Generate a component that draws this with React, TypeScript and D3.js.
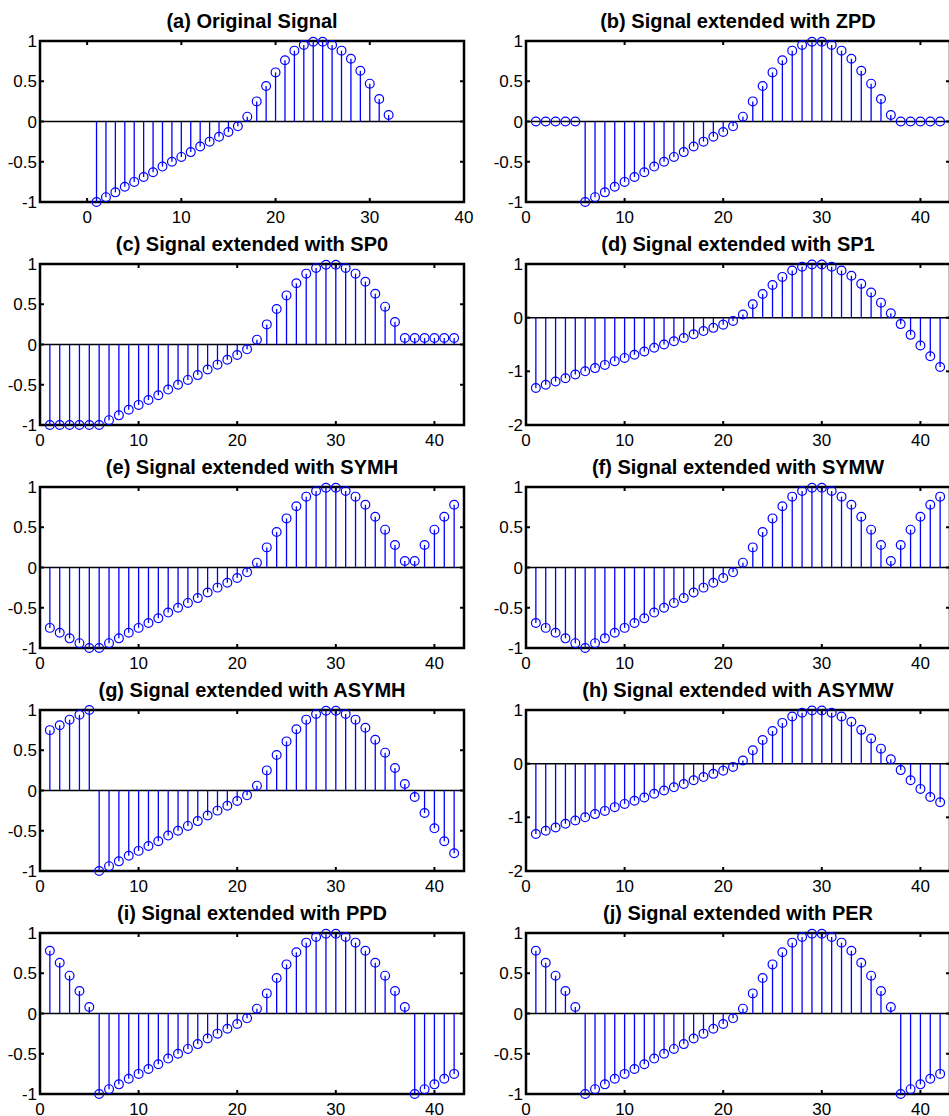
import React, { useRef, useEffect } from 'react';
import * as d3 from 'd3';

// original signal, 32 samples
const signal = [
  -1, -0.94, -0.88, -0.81, -0.75, -0.69, -0.63, -0.56, -0.5, -0.44, -0.38, -0.31, -0.25, -0.19, -0.13, -0.06,
  0.06, 0.25, 0.44, 0.61, 0.76, 0.88, 0.95, 0.99, 0.99, 0.95, 0.88, 0.78, 0.63, 0.47, 0.28, 0.08,
];

// extension samples added on each side (5 each)
const zpdLeft = [0, 0, 0, 0, 0];
const zpdRight = [0, 0, 0, 0, 0];
const sp0Left = [-1, -1, -1, -1, -1];
const sp0Right = [0.08, 0.08, 0.08, 0.08, 0.08];
const sp1Left = [-1.31, -1.25, -1.19, -1.13, -1.06];
const sp1Right = [-0.12, -0.32, -0.52, -0.72, -0.92];
const symhLeft = [-0.75, -0.81, -0.88, -0.94, -1];
const symhRight = [0.08, 0.28, 0.47, 0.63, 0.78];
const symwLeft = [-0.69, -0.75, -0.81, -0.88, -0.94];
const symwRight = [0.28, 0.47, 0.63, 0.78, 0.88];
const asymhLeft = [0.75, 0.81, 0.88, 0.94, 1];
const asymhRight = [-0.08, -0.28, -0.47, -0.63, -0.78];
const asymwLeft = [-1.31, -1.25, -1.19, -1.12, -1.06];
const asymwRight = [-0.12, -0.31, -0.47, -0.62, -0.72];
const ppdLeft = [0.78, 0.63, 0.47, 0.28, 0.08];
const ppdRight = [-1, -0.94, -0.88, -0.81, -0.75];
const perLeft = [0.78, 0.63, 0.47, 0.28, 0.08];
const perRight = [-1, -0.94, -0.88, -0.81, -0.75];

const xTicks = [0, 10, 20, 30, 40];
const yTicksUnit = [-1, -0.5, 0, 0.5, 1];
const yTicksWide = [-2, -1, 0, 1];

const panels = [
  { title: '(a) Original Signal', left: [], right: [], xDomain: [-5, 40], yDomain: [-1, 1], yTicks: yTicksUnit },
  { title: '(b) Signal extended with ZPD', left: zpdLeft, right: zpdRight, xDomain: [0, 43], yDomain: [-1, 1], yTicks: yTicksUnit },
  { title: '(c) Signal extended with SP0', left: sp0Left, right: sp0Right, xDomain: [0, 43], yDomain: [-1, 1], yTicks: yTicksUnit },
  { title: '(d) Signal extended with SP1', left: sp1Left, right: sp1Right, xDomain: [0, 43], yDomain: [-2, 1], yTicks: yTicksWide },
  { title: '(e) Signal extended with SYMH', left: symhLeft, right: symhRight, xDomain: [0, 43], yDomain: [-1, 1], yTicks: yTicksUnit },
  { title: '(f) Signal extended with SYMW', left: symwLeft, right: symwRight, xDomain: [0, 43], yDomain: [-1, 1], yTicks: yTicksUnit },
  { title: '(g) Signal extended with ASYMH', left: asymhLeft, right: asymhRight, xDomain: [0, 43], yDomain: [-1, 1], yTicks: yTicksUnit },
  { title: '(h) Signal extended with ASYMW', left: asymwLeft, right: asymwRight, xDomain: [0, 43], yDomain: [-2, 1], yTicks: yTicksWide },
  { title: '(i) Signal extended with PPD', left: ppdLeft, right: ppdRight, xDomain: [0, 43], yDomain: [-1, 1], yTicks: yTicksUnit },
  { title: '(j) Signal extended with PER', left: perLeft, right: perRight, xDomain: [0, 43], yDomain: [-1, 1], yTicks: yTicksUnit },
];

const W = 949;
const H = 1116;
const colX = [40, 526];
const rowY = [41, 264, 487, 710, 933];
const axW = 424;
const axH = 161;
const tickLen = 4;
const font = '"Liberation Sans", Arial, Helvetica, sans-serif';
const blue = '#0000ff';

const App = () => {
  const svgRef = useRef<SVGSVGElement>(null);

  useEffect(() => {
    const svg = d3.select(svgRef.current);
    svg.selectAll('*').remove();

    panels.forEach((p, i) => {
      const x0 = colX[i % 2];
      const y0 = rowY[Math.floor(i / 2)];
      const values = [...p.left, ...signal, ...p.right];
      const pts = values.map((v, k) => ({ n: k + 1, v }));

      const xScale = d3.scaleLinear().domain(p.xDomain).range([x0, x0 + axW]);
      const yScale = d3.scaleLinear().domain(p.yDomain).range([y0 + axH, y0]);

      const g = svg.append('g');

      // title
      g.append('text')
        .attr('x', x0 + axW / 2)
        .attr('y', y0 - 13)
        .attr('text-anchor', 'middle')
        .attr('font-family', font)
        .attr('font-weight', 'bold')
        .attr('font-size', 20)
        .text(p.title);

      // ticks, inward on all four sides
      const ticks = g.append('g').attr('stroke', '#000').attr('stroke-width', 2);
      xTicks.forEach(t => {
        const x = xScale(t);
        ticks.append('line').attr('x1', x).attr('x2', x).attr('y1', y0 + axH).attr('y2', y0 + axH - tickLen);
        ticks.append('line').attr('x1', x).attr('x2', x).attr('y1', y0).attr('y2', y0 + tickLen);
      });
      p.yTicks.forEach(t => {
        const y = yScale(t);
        ticks.append('line').attr('x1', x0).attr('x2', x0 + tickLen).attr('y1', y).attr('y2', y);
        ticks.append('line').attr('x1', x0 + axW).attr('x2', x0 + axW - tickLen).attr('y1', y).attr('y2', y);
      });

      // tick labels
      g.selectAll('.xl')
        .data(xTicks)
        .enter()
        .append('text')
        .attr('x', d => xScale(d))
        .attr('y', y0 + axH + 21)
        .attr('text-anchor', 'middle')
        .attr('font-family', font)
        .attr('font-size', 17)
        .text(d => String(d));

      g.selectAll('.yl')
        .data(p.yTicks)
        .enter()
        .append('text')
        .attr('x', x0 - 3)
        .attr('y', d => yScale(d) + 6)
        .attr('text-anchor', 'end')
        .attr('font-family', font)
        .attr('font-size', 17)
        .text(d => String(d));

      // box
      g.append('rect')
        .attr('x', x0)
        .attr('y', y0)
        .attr('width', axW)
        .attr('height', axH)
        .attr('fill', 'none')
        .attr('stroke', '#000')
        .attr('stroke-width', 2.5);

      // baseline at zero
      g.append('line')
        .attr('x1', x0)
        .attr('x2', x0 + axW)
        .attr('y1', yScale(0))
        .attr('y2', yScale(0))
        .attr('stroke', '#000')
        .attr('stroke-width', 1.5);

      // stems
      g.selectAll('.stem')
        .data(pts)
        .enter()
        .append('line')
        .attr('x1', d => xScale(d.n))
        .attr('x2', d => xScale(d.n))
        .attr('y1', yScale(0))
        .attr('y2', d => yScale(d.v))
        .attr('stroke', blue)
        .attr('stroke-width', 1.3);

      // markers
      g.selectAll('.mk')
        .data(pts)
        .enter()
        .append('circle')
        .attr('cx', d => xScale(d.n))
        .attr('cy', d => yScale(d.v))
        .attr('r', 4.4)
        .attr('fill', 'none')
        .attr('stroke', blue)
        .attr('stroke-width', 1.2);
    });
  }, []);

  return (
    <svg
      ref={svgRef}
      width={W}
      height={H}
      style={{ position: 'absolute', left: 0, top: 0, background: '#fff' }}
    ></svg>
  );
};

export default App;
